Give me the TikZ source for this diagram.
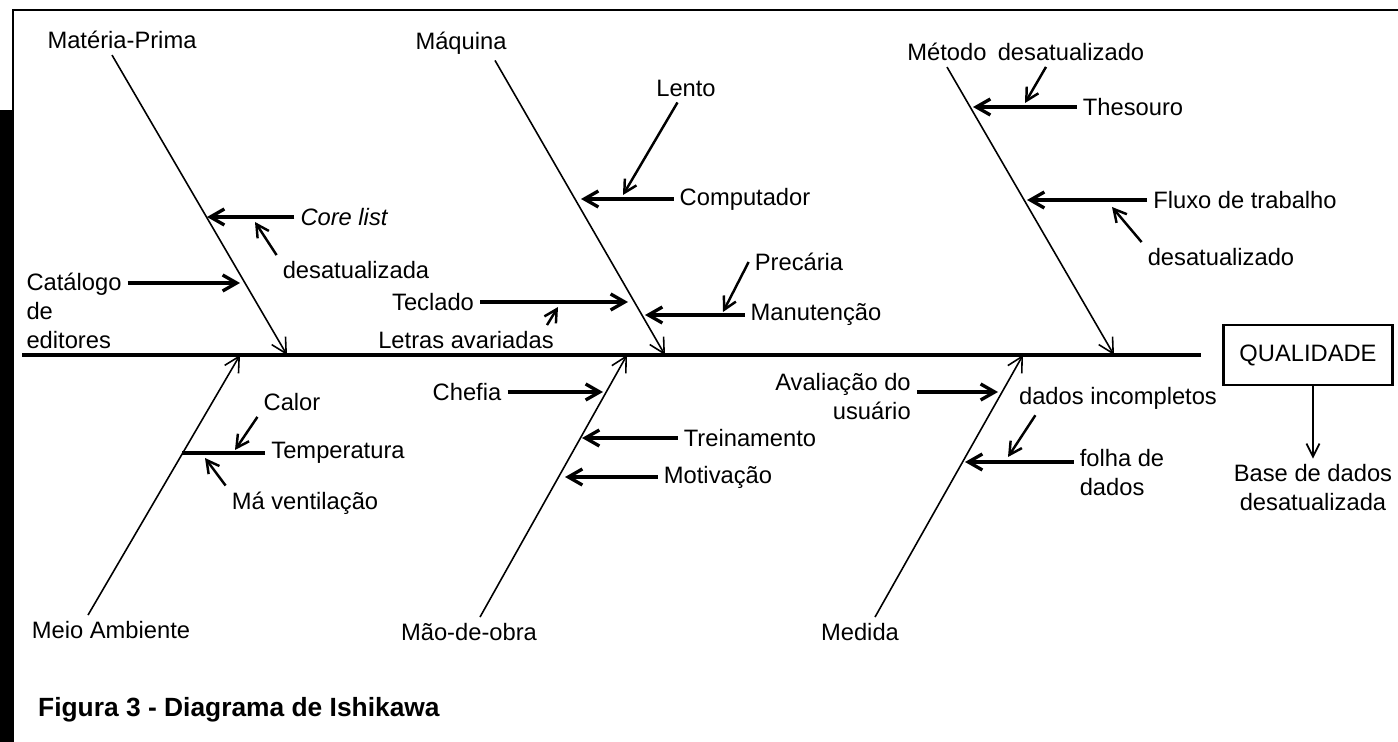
\documentclass[tikz,border=0pt]{standalone}
\usepackage{fontspec}
\setmainfont{Liberation Sans}
\usetikzlibrary{arrows.meta}

\begin{document}
\begin{tikzpicture}[
    x=2cm, y=2cm,
    font=\fontsize{13.5}{16.5}\selectfont,
    spine/.style={draw,line width=1.8pt},
    bone/.style={draw,line width=0.9pt,-{Straight Barb[length=3mm,width=3.2mm]}},
    cause/.style={draw,line width=1.9pt,-{Straight Barb[length=2.8mm,width=3.2mm]}},
    subc/.style={draw,line width=1.4pt,-{Straight Barb[length=2.5mm,width=2.7mm]}},
    twig/.style={draw,line width=1.9pt},
    effect/.style={draw,line width=1.3pt,minimum width=3.38cm,minimum height=1.2cm},
    outp/.style={draw,line width=1pt,-{Straight Barb[length=2.6mm,width=2.6mm]}}]
  \useasboundingbox (0,-3.87) rectangle (13.98,3.55);
  \fill (0,-3.87) rectangle (0.13,2.45);
  \draw[line width=1.5pt] (0.13,-3.87) -- (0.13,3.45) -- (13.98,3.45);
  % spine and effect
  \coordinate (tail) at (0.22,0);
  \node[effect] at (13.08,0) (qual) { QUALIDADE };
  \draw[spine,shorten >=0.42cm] (tail) -- (qual.west);
  \node[align=center] at (13.13,-1.33) (basedad) { Base de dados\\desatualizada };
  \draw[outp] (qual.south -| basedad) -- (basedad);
  % main bones
  \coordinate (mpend) at (2.87,0);
  \coordinate (mqend) at (6.65,0);
  \coordinate (mtend) at (11.14,0);
  \coordinate (maend) at (2.40,0);
  \coordinate (moend) at (6.27,0);
  \coordinate (meend) at (10.23,0);
  \node at (1.22,3.15) (matprim) { Matéria-Prima };
  \node at (4.61,3.12) (maq) { Máquina };
  \node at (9.47,3.03) (metod) { Método };
  \node at (1.11,-2.75) (meio) { Meio Ambiente };
  \node at (4.69,-2.77) (maob) { Mão-de-obra };
  \node at (8.60,-2.77) (medi) { Medida };
  \draw[bone] ([xshift=-0.2cm]matprim.south) -- (mpend);
  \draw[bone] ([xshift=0.68cm]maq.south) -- (mqend);
  \draw[bone] (metod.south) -- (mtend);
  \draw[bone] ([xshift=-0.46cm]meio.north) -- (maend);
  \draw[bone] ([xshift=0.22cm]maob.north) -- (moend);
  \draw[bone] ([xshift=0.3cm]medi.north) -- (meend);
  % materia-prima
  \coordinate (cl) at (2.07,1.38);
  \coordinate (cla) at (2.55,1.33);
  \coordinate (ct) at (2.40,0.72);
  \node at (3.44,1.38) (corel) { \itshape Core list };
  \node at (3.56,0.85) (desatcl) { desatualizada };
  \node[align=left] at (0.74,0.44) (catal) { Catálogo\\de\\editores };
  \draw[cause] (corel) -- (cl);
  \draw[subc] (desatcl.north west) -- (cla);
  \draw[cause] (catal.east |- ct) -- (ct);
  % maquina
  \coordinate (co) at (5.81,1.56);
  \coordinate (coa) at (6.23,1.60);
  \coordinate (tc) at (6.28,0.53);
  \coordinate (tca) at (5.58,0.48);
  \coordinate (mn) at (6.45,0.40);
  \coordinate (mna) at (7.23,0.43);
  \node at (7.45,1.56) (comp) { Computador };
  \node at (6.86,2.67) (lento) { Lento };
  \node at (4.33,0.53) (tecl) { Teclado };
  \node at (4.66,0.15) (letras) { Letras avariadas };
  \node at (8.16,0.40) (manut) { Manutenção };
  \node at (7.99,0.93) (prec) { Precária };
  \draw[cause] (comp) -- (co);
  \draw[subc] (lento) -- (coa);
  \draw[cause] (tecl) -- (tc);
  \draw[subc] ([xshift=1.62cm]letras.north) -- (tca);
  \draw[cause] (manut) -- (mn);
  \draw[subc] (prec.west) -- (mna);
  % metodo
  \coordinate (th) at (9.73,2.48);
  \coordinate (tha) at (10.25,2.52);
  \coordinate (fl) at (10.27,1.55);
  \coordinate (fla) at (11.12,1.48);
  \node at (11.33,2.48) (thes) { Thesouro };
  \node at (10.71,3.03) (desatmt) { desatualizado };
  \node at (12.45,1.55) (fluxo) { Fluxo de trabalho };
  \node at (12.21,0.98) (desatfl) { desatualizado };
  \draw[cause] (thes) -- (th);
  \draw[subc] ([xshift=-0.5cm]desatmt.south) -- (tha);
  \draw[cause] (fluxo) -- (fl);
  \draw[subc] (desatfl.north west) -- (fla);
  % meio ambiente
  \coordinate (te) at (1.82,-0.98);
  \coordinate (tea) at (2.35,-0.95);
  \coordinate (teb) at (2.05,-1.03);
  \node at (3.38,-0.98) (temp) { Temperatura };
  \node at (2.92,-0.47) (calor) { Calor };
  \node at (3.05,-1.48) (mavent) { Má ventilação };
  \draw[twig] (temp) -- (te);
  \draw[subc] (calor.south west) -- (tea);
  \draw[subc] (mavent.north west) -- (teb);
  % mao-de-obra
  \coordinate (ch) at (6.03,-0.37);
  \coordinate (tr) at (5.82,-0.83);
  \coordinate (mv) at (5.65,-1.22);
  \node at (4.67,-0.37) (chefia) { Chefia };
  \node at (7.50,-0.83) (trein) { Treinamento };
  \node at (7.18,-1.22) (motiv) { Motivação };
  \draw[cause] (chefia) -- (ch);
  \draw[cause] (trein) -- (tr);
  \draw[cause] (motiv) -- (mv);
  % medida
  \coordinate (av) at (9.98,-0.37);
  \coordinate (fo) at (9.65,-1.07);
  \coordinate (foa) at (10.08,-1.02);
  \node[align=right] at (8.43,-0.42) (aval) { Avaliação do\\usuário };
  \node at (11.18,-0.43) (incomp) { dados incompletos };
  \node[align=left] at (11.22,-1.18) (folha) { folha de\\dados };
  \draw[cause] (aval.east |- av) -- (av);
  \draw[subc] ([xshift=0.45cm]incomp.south west) -- (foa);
  \draw[cause] (folha.west |- fo) -- (fo);
  \node[anchor=west,font=\bfseries\fontsize{15}{18}\selectfont] at (0.32,-3.55) (fig) { Figura 3 - Diagrama de Ishikawa };
\end{tikzpicture}
\end{document}
